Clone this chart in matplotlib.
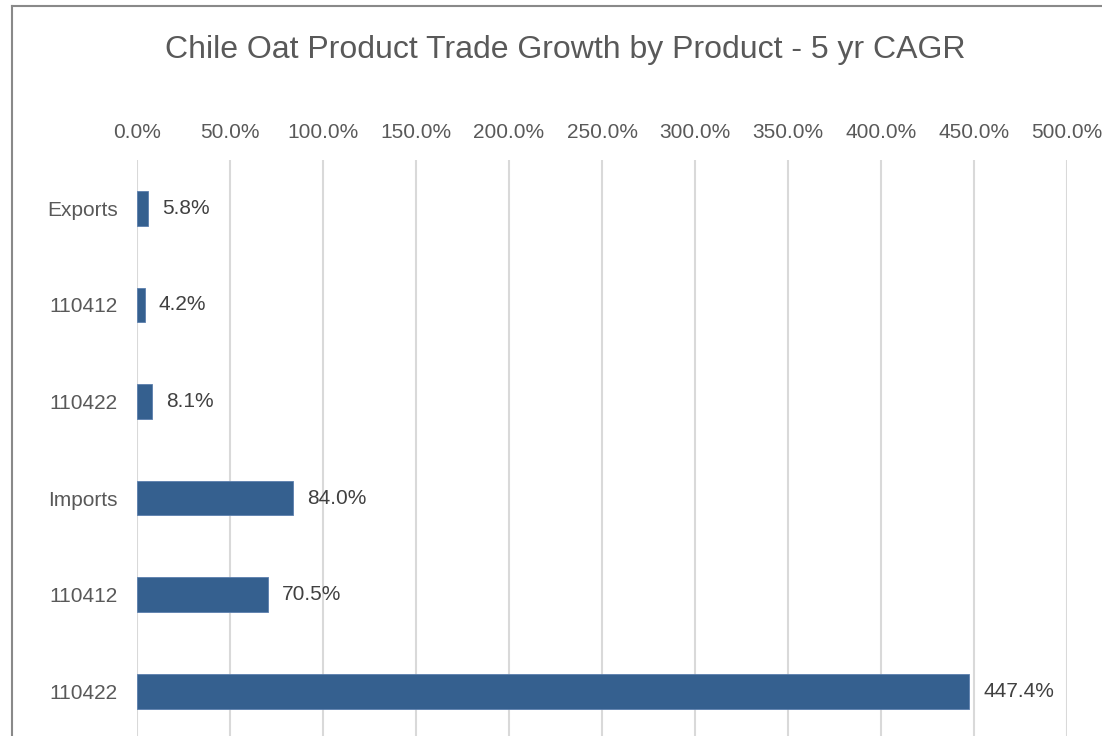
import matplotlib
matplotlib.use('Agg')
import matplotlib.pyplot as plt
from matplotlib.lines import Line2D
from matplotlib.ticker import FuncFormatter, MultipleLocator

plt.rcParams['font.family'] = ['Liberation Sans', 'DejaVu Sans']

categories = ['Exports', '110412', '110422', 'Imports', '110412', '110422']
cagr = [5.8, 4.2, 8.1, 84.0, 70.5, 447.4]

W, H = 1102, 736
fig = plt.figure(figsize=(W / 100, H / 100), dpi=100)

# plot area in pixel terms, converted to figure fractions
left, right, top = 137, 1067, 160
ax = fig.add_axes([left / W, 0, (right - left) / W, 1 - top / H])

pos = list(range(len(categories)))
ax.barh(pos, cagr, height=0.36, color='#35608f', edgecolor='#5b7fae', linewidth=0.6, zorder=3)

ax.set_xlim(0, 500)
ax.set_ylim(-0.5 + 576 / 96.6, -0.5)
ax.set_yticks(pos)
ax.set_yticklabels(categories)
ax.xaxis.set_major_locator(MultipleLocator(50))
ax.xaxis.set_major_formatter(FuncFormatter(lambda v, p: f'{v:.1f}%'))
ax.xaxis.tick_top()
ax.tick_params(axis='x', length=0, pad=13, labelsize=15, labelcolor='#595959')
ax.tick_params(axis='y', length=0, pad=14, labelsize=15, labelcolor='#595959')
ax.grid(axis='x', color='#d9d9d9', linewidth=1.5, zorder=0)
for s in ax.spines.values():
    s.set_visible(False)

bars = ax.containers[0]
ax.bar_label(bars, labels=[f'{v:.1f}%' for v in cagr], padding=10, fontsize=15, color='#404040')

fig.text(565 / W, 1 - 50 / H, 'Chile Oat Product Trade Growth by Product - 5 yr CAGR',
         ha='center', va='center', fontsize=23, color='#595959')

# chart border (cropped on the right and bottom)
fig.add_artist(Line2D([12 / W, 12 / W], [0, 1 - 6 / H], color='#898989', linewidth=1.5))
fig.add_artist(Line2D([12 / W, 1], [1 - 6 / H, 1 - 6 / H], color='#898989', linewidth=1.5))

fig.savefig('out.png', dpi=100)
